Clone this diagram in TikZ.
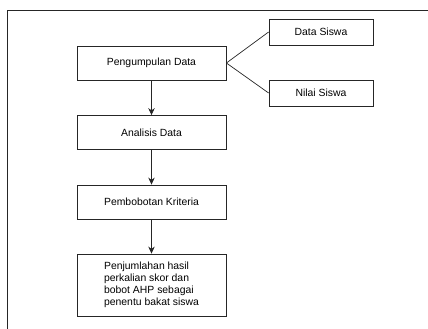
\documentclass[tikz,border=0pt]{standalone}
\usepackage{fontspec}
\setmainfont{Liberation Sans}
\usetikzlibrary{positioning,arrows.meta}
\definecolor{ink}{RGB}{38,38,38}
\tikzset{
  box/.style={draw=ink, line width=0.8pt, fill=white, align=center, minimum width=149pt, minimum height=#1, inner sep=0pt, font=\fontsize{10.4}{11.8}\selectfont},
  box/.default={34pt},
  side/.style={draw=ink, line width=0.8pt, fill=white, align=center, minimum width=104pt, minimum height=26pt, inner sep=0pt, font=\fontsize{10.4}{11.8}\selectfont},
  arrow/.style={-{Stealth[length=7pt, width=6.5pt]}, line width=0.8pt, draw=ink},
  link/.style={line width=0.7pt, draw=ink}
}

\begin{document}
\begin{tikzpicture}[x=1pt, y=1pt]
  \useasboundingbox (0,0) rectangle (428,329);
  % frame on the left and top
  \draw[line width=1pt, ink] (7.5,0) -- (7.5,318.5) -- (428,318.5);
  \node[box] (kumpul) at (151.5,266) {Pengumpulan Data};
  \node[side] (siswa) at (321,297) {Data Siswa};
  \node[side] (nilai) at (321,236) {Nilai Siswa};
  \node[box] (analisis) at (151.5,196.5) {Analisis Data};
  \node[box] (bobot) at (151.5,127) {Pembobotan Kriteria};
  \node[box=62pt, align=left] (hasil) at (151.5,44) {Penjumlahan hasil\\ perkalian skor dan\\ bobot AHP sebagai\\ penentu bakat siswa};
  \draw[link] (kumpul.east) -- (siswa.west);
  \draw[link] (kumpul.east) -- (nilai.west);
  \draw[arrow] (kumpul) -- (analisis);
  \draw[arrow] (analisis) -- (bobot);
  \draw[arrow] (bobot) -- (hasil);
\end{tikzpicture}
\end{document}
